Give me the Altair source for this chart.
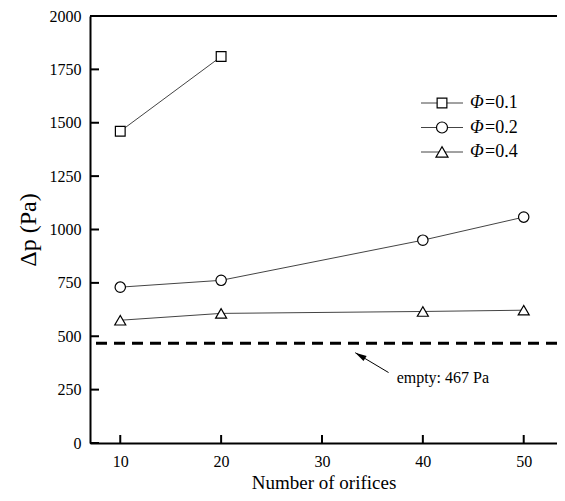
import altair as alt
import pandas as pd

# ---- data ----
n_phi01 = [10, 20]
dp_phi01 = [1460, 1810]
n_phi02 = [10, 20, 40, 50]
dp_phi02 = [730, 762, 950, 1058]
n_phi04 = [10, 20, 40, 50]
dp_phi04 = [575, 607, 616, 622]
series = ["0.1", "0.2", "0.4"]
shapes = ["square", "circle", "triangle-up"]
sizes = [95, 121, 145]

empty_dp = 467
empty_label = "empty: 467 Pa"
arrow_tail = (36.6, 330)
arrow_tip = (33.3, 423)
arrow_head_center = (33.87, 407)
label_pos = (37.4, 305)

x_ticks = [10, 20, 30, 40, 50]
y_ticks = [0, 250, 500, 750, 1000, 1250, 1500, 1750, 2000]

FONT = "Liberation Serif"
W, H = 467, 427

rows = []
for s, ns, vs in zip(series, [n_phi01, n_phi02, n_phi04], [dp_phi01, dp_phi02, dp_phi04]):
    for n, v in zip(ns, vs):
        rows.append({"s": s, "x": n, "y": v})
df = pd.DataFrame(rows)

xscale = alt.Scale(domain=[7, 53.3], nice=False, zero=False)
yscale = alt.Scale(domain=[0, 2000], nice=False)
xaxis = alt.Axis(values=x_ticks, title="Number of orifices", labelFont=FONT, labelFontSize=16,
                 titleFont=FONT, titleFontSize=19, titleFontWeight="normal", labelPadding=10,
                 titlePadding=4, domainWidth=2, domainColor="black", ticks=False, grid=False,
                 labelColor="black", titleColor="black", format="d")
yaxis = alt.Axis(values=y_ticks, title="Δp (Pa)", labelFont=FONT, labelFontSize=16,
                 titleFont=FONT, titleFontSize=24, titleFontWeight="normal", labelPadding=9,
                 titlePadding=9, domainWidth=2, domainColor="black", ticks=False, grid=False,
                 labelColor="black", titleColor="black", format="d")

def X(f="x"):
    return alt.X(f"{f}:Q", scale=xscale, axis=xaxis)

def Y(f="y"):
    return alt.Y(f"{f}:Q", scale=yscale, axis=yaxis)

lines = alt.Chart(df).mark_line(color="#444", strokeWidth=1).encode(x=X(), y=Y(), detail="s:N")
points = alt.Chart(df).mark_point(filled=True, fill="white", stroke="black", strokeWidth=1.2, opacity=1).encode(
    x=X(), y=Y(),
    shape=alt.Shape("s:N", scale=alt.Scale(domain=series, range=shapes), legend=None),
    size=alt.Size("s:N", scale=alt.Scale(domain=series, range=sizes), legend=None),
)

empty_df = pd.DataFrame({"y": [empty_dp]})
empty_line = alt.Chart(empty_df).mark_rule(color="black", strokeWidth=3, strokeDash=[11, 7]).encode(y=Y())

top_df = pd.DataFrame({"y": [y_ticks[-1]]})
top_line = alt.Chart(top_df).mark_rule(color="black", strokeWidth=2).encode(y=Y())

yt_df = pd.DataFrame({"y": y_ticks})
y_tick_marks = alt.Chart(yt_df).mark_rule(color="black", strokeWidth=2).encode(
    y=Y(), x=alt.value(0), x2=alt.value(9))
xt_df = pd.DataFrame({"x": x_ticks})
x_tick_marks = alt.Chart(xt_df).mark_rule(color="black", strokeWidth=2).encode(
    x=X(), y=alt.value(H), y2=alt.value(H - 8))

arrow_df = pd.DataFrame({"x": [arrow_tail[0]], "y": [arrow_tail[1]],
                         "x2": [arrow_tip[0]], "y2": [arrow_tip[1]]})
arrow_line = alt.Chart(arrow_df).mark_rule(color="black", strokeWidth=1).encode(
    x=X(), y=Y(), x2="x2:Q", y2="y2:Q")
head_df = pd.DataFrame({"x": [arrow_head_center[0]], "y": [arrow_head_center[1]]})
arrow_head = alt.Chart(head_df).mark_point(
    shape="M0,-1L-0.45,0.7L0.45,0.7Z", filled=True, color="black", size=180, angle=301, opacity=1
).encode(x=X(), y=Y())
label_df = pd.DataFrame({"x": [label_pos[0]], "y": [label_pos[1]], "t": [empty_label]})
label = alt.Chart(label_df).mark_text(font=FONT, fontSize=16, align="left", baseline="middle",
                                      color="black").encode(x=X(), y=Y(), text="t:N")

# manual legend
legend_layers = []
row_y = [87, 111.5, 136]
for s, shp, sz, ry in zip(series, shapes, sizes, row_y):
    ldf = pd.DataFrame({"t": [s]})
    base = alt.Chart(ldf)
    legend_layers.append(base.mark_rule(color="#444", strokeWidth=1).encode(
        x=alt.value(331), x2=alt.value(373), y=alt.value(ry)))
    legend_layers.append(base.mark_point(shape=shp, size=sz, filled=True, fill="white",
                                         stroke="black", strokeWidth=1.2, opacity=1).encode(
        x=alt.value(352), y=alt.value(ry)))
    legend_layers.append(base.mark_text(text="Φ", font=FONT, fontSize=18, fontStyle="italic",
                                        align="left", baseline="middle", color="black").encode(
        x=alt.value(380), y=alt.value(ry)))
    legend_layers.append(base.transform_calculate(t2="'=' + datum.t").mark_text(
        font=FONT, fontSize=18, align="left", baseline="middle", color="black").encode(
        x=alt.value(395), y=alt.value(ry), text="t2:N"))

chart = alt.layer(
    empty_line, top_line, lines, points, y_tick_marks, x_tick_marks,
    arrow_line, arrow_head, label, *legend_layers
).properties(
    width=W, height=H,
    autosize=alt.AutoSizeParams(type="none"),
    padding={"left": 82, "top": 8, "right": 0, "bottom": 50},
).configure_view(stroke=None).configure(background="white", font=FONT).configure_axis(
    labelFont=FONT, titleFont=FONT).configure_text(font=FONT)

chart.save("out.html", embed_options={"renderer": "svg", "actions": False})
